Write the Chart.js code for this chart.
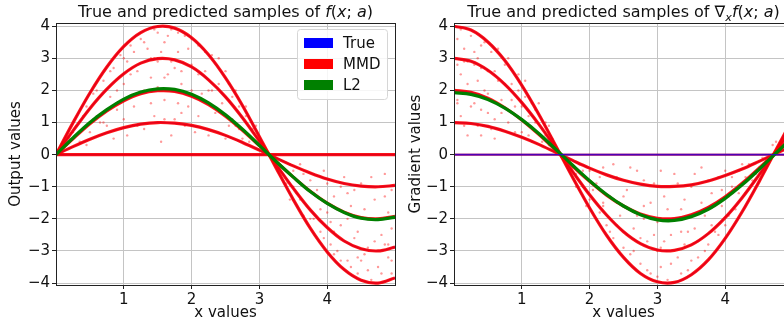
<!DOCTYPE html>
<html>
<head>
<meta charset="utf-8">
<script src="https://cdn.jsdelivr.net/npm/chart.js@4/dist/chart.umd.min.js"></script>
<style>
  html, body { margin: 0; padding: 0; background: #fff; overflow: hidden; width: 784px; height: 324px; }
  #left { position: absolute; left: 0; top: 0; }
  #right { position: absolute; left: 400px; top: 0; }
</style>
</head>
<body>
<canvas id="left" width="400" height="324"></canvas>
<canvas id="right" width="400" height="324"></canvas>
<script>
'use strict';

const xs = [0, 0.25, 0.5, 0.75, 1, 1.25, 1.5, 1.75, 2, 2.25, 2.5, 2.75, 3, 3.25, 3.5, 3.75, 4, 4.25, 4.5, 4.75, 5];
const xTicks = [1, 2, 3, 4];
const yTicks = [-4, -3, -2, -1, 0, 1, 2, 3, 4];
const legendLabels = ['True', 'MMD', 'L2'];

// left panel: f(x; a)
const fA0 = [0, 0, 0, 0, 0, 0, 0, 0, 0, 0, 0, 0, 0, 0, 0, 0, 0, 0, 0, 0, 0];
const fA1 = [0, 0.25, 0.48, 0.68, 0.84, 0.95, 1.00, 0.98, 0.91, 0.78, 0.60, 0.38, 0.14, -0.11, -0.35, -0.57, -0.76, -0.90, -0.98, -1.00, -0.96];
const fA2 = [0, 0.49, 0.96, 1.36, 1.68, 1.90, 1.99, 1.97, 1.82, 1.56, 1.20, 0.76, 0.28, -0.22, -0.70, -1.14, -1.51, -1.79, -1.96, -2.00, -1.92];
const fA3 = [0, 0.74, 1.44, 2.04, 2.52, 2.85, 2.99, 2.95, 2.73, 2.33, 1.80, 1.15, 0.42, -0.32, -1.05, -1.72, -2.27, -2.69, -2.93, -3.00, -2.88];
const fA4 = [0, 0.99, 1.92, 2.73, 3.37, 3.80, 3.99, 3.94, 3.64, 3.11, 2.39, 1.53, 0.56, -0.43, -1.40, -2.29, -3.03, -3.58, -3.91, -4.00, -3.84];
const fL2 = [0, 0.52, 1.00, 1.40, 1.73, 1.95, 2.05, 2.03, 1.88, 1.61, 1.24, 0.79, 0.29, -0.22, -0.70, -1.15, -1.52, -1.80, -1.98, -2.02, -1.95];

const fSampleX = [0.2, 0.3, 0.35, 0.45, 0.5, 0.55, 0.6, 0.7, 0.75, 0.8, 0.85, 0.9, 0.95, 1.0, 1.05, 1.1, 1.15, 1.2, 1.25, 1.3,
  1.35, 1.4, 1.45, 1.5, 1.5, 1.55, 1.6, 1.6, 1.65, 1.7, 1.75, 1.8, 1.85, 1.9, 1.95, 2.0, 2.05, 2.1, 2.15, 2.2,
  2.3, 2.35, 2.4, 2.5, 2.55, 2.6, 2.7, 2.75, 2.8, 2.9, 3.0, 3.05, 3.3, 3.4, 3.5, 3.55, 3.6, 3.7, 3.75, 3.8,
  3.85, 3.9, 3.95, 4.0, 4.05, 4.1, 4.15, 4.2, 4.25, 4.3, 4.35, 4.4, 4.45, 4.5, 4.55, 4.6, 4.65, 4.7, 4.75, 4.8,
  4.85, 4.9, 4.9, 4.95, 4.95, 4.3, 4.6, 3.65, 1.25, 1.75, 0.65, 1.05, 1.45, 1.85, 2.25, 4.05, 4.45, 4.85, 3.45, 2.65,
  0.15, 0.25, 0.4, 0.45, 0.55, 0.6, 0.7, 0.8, 0.85, 0.9, 1.0, 1.0, 1.1, 1.15, 1.2, 1.3, 1.3, 1.4, 1.4, 1.45,
  1.5, 1.55, 1.6, 1.6, 1.65, 1.7, 1.7, 1.8, 1.8, 1.85, 1.9, 1.95, 2.0, 2.0, 2.1, 2.1, 2.2, 2.25, 2.3, 2.4,
  2.45, 2.5, 2.55, 2.6, 2.65, 2.7, 2.8, 2.85, 2.95, 3.1, 3.25, 3.35, 3.45, 3.5, 3.6, 3.65, 3.75, 3.8, 3.9, 3.95,
  4.0, 4.1, 4.1, 4.2, 4.2, 4.3, 4.35, 4.4, 4.45, 4.5, 4.55, 4.6, 4.65, 4.7, 4.75, 4.8, 4.85, 4.9, 4.95, 4.95];
const fSampleY = [0.5, 0.9, 0.4, 1.5, 0.7, 1.9, 1.2, 2.3, 0.9, 1.8, 2.7, 1.4, 3.1, 2.2, 0.6, 3.4, 1.5, 2.6, 3.6, 0.8,
  3.3, 2.4, 1.2, 3.8, 2.9, 0.4, 3.5, 1.7, 2.5, 3.9, 1.1, 3.2, 2.2, 3.7, 1.5, 2.8, 0.7, 3.4, 1.9, 2.6,
  3.1, 1.3, 2.2, 2.6, 0.9, 1.8, 1.5, 0.5, 1.2, 0.8, 0.4, 0.2, -0.4, -0.9, -0.5, -1.2, -0.3, -1.6, -0.8, -2.0,
  -1.1, -2.4, -0.5, -1.8, -2.8, -1.3, -3.0, -2.2, -0.7, -3.3, -1.6, -2.6, -3.7, -0.9, -3.1, -2.0, -3.9, -1.4, -3.5, -2.5,
  -0.6, -3.2, -1.8, -3.7, -2.3, -1.2, -2.9, -1.9, 1.9, 2.7, 1.0, 2.9, 3.0, 1.3, 2.0, -2.1, -3.2, -2.8, -1.4, 0.9,
  0.3, 0.7, 1.2, 0.3, 1.1, 2.0, 1.0, 2.6, 0.5, 2.0, 3.0, 1.1, 2.5, 3.2, 0.9, 2.0, 3.5, 1.6, 3.0, 3.9,
  2.1, 3.2, 1.1, 2.4, 3.7, 2.9, 0.6, 1.6, 3.8, 2.6, 0.9, 3.3, 2.0, 3.6, 1.2, 2.5, 3.2, 0.6, 2.0, 3.0,
  1.6, 0.5, 2.2, 1.1, 2.0, 0.8, 1.5, 0.4, 0.9, 0.1, -0.2, -0.6, -0.3, -1.0, -1.4, -0.6, -2.0, -1.2, -1.7, -2.6,
  -0.9, -2.4, -3.1, -1.0, -3.3, -2.0, -3.5, -1.1, -2.4, -3.3, -1.7, -3.6, -0.7, -2.7, -2.0, -3.7, -1.3, -2.8, -1.1, -3.3];

// right panel: gradient of f(x; a)
const gA0 = [0, 0, 0, 0, 0, 0, 0, 0, 0, 0, 0, 0, 0, 0, 0, 0, 0, 0, 0, 0, 0];
const gA1 = [1.00, 0.97, 0.88, 0.73, 0.54, 0.32, 0.07, -0.18, -0.42, -0.63, -0.80, -0.92, -0.99, -0.99, -0.94, -0.82, -0.65, -0.45, -0.21, 0.04, 0.28];
const gA2 = [2.00, 1.94, 1.76, 1.46, 1.08, 0.63, 0.14, -0.36, -0.83, -1.26, -1.60, -1.85, -1.98, -1.99, -1.87, -1.64, -1.31, -0.89, -0.42, 0.08, 0.57];
const gA3 = [3.00, 2.91, 2.63, 2.19, 1.62, 0.95, 0.21, -0.53, -1.25, -1.88, -2.40, -2.77, -2.97, -2.98, -2.81, -2.46, -1.96, -1.34, -0.63, 0.11, 0.85];
const gA4 = [4.00, 3.88, 3.51, 2.93, 2.16, 1.26, 0.28, -0.71, -1.66, -2.51, -3.20, -3.70, -3.96, -3.98, -3.74, -3.28, -2.61, -1.78, -0.84, 0.15, 1.13];
const gL2 = [1.93, 1.88, 1.72, 1.45, 1.09, 0.66, 0.17, -0.33, -0.81, -1.24, -1.60, -1.87, -2.03, -2.05, -1.93, -1.70, -1.36, -0.94, -0.46, 0.05, 0.55];

const gSampleX = [0.05, 0.1, 0.1, 0.15, 0.2, 0.2, 0.25, 0.3, 0.3, 0.35, 0.4, 0.45, 0.5, 0.5, 0.55, 0.6, 0.65, 0.7, 0.75, 0.8,
  0.85, 0.9, 0.95, 1.0, 1.05, 1.1, 1.15, 1.2, 1.3, 1.35, 1.4, 1.45, 1.7, 1.8, 1.85, 1.9, 2.0, 2.0, 2.1, 2.15,
  2.2, 2.25, 2.3, 2.35, 2.4, 2.45, 2.5, 2.55, 2.6, 2.65, 2.7, 2.75, 2.8, 2.85, 2.9, 2.95, 3.0, 3.05, 3.1, 3.15,
  3.2, 3.25, 3.3, 3.35, 3.4, 3.45, 3.5, 3.55, 3.6, 3.65, 3.7, 3.75, 3.8, 3.85, 3.9, 3.95, 4.0, 4.1, 4.15, 4.2,
  4.3, 4.35, 4.4, 4.5, 4.55, 4.8, 4.85, 4.7, 3.05, 2.4, 0.15, 0.35, 0.6, 0.05, 0.4, 2.8, 3.35, 3.0, 2.2, 4.05,
  0.05, 0.05, 0.1, 0.15, 0.2, 0.25, 0.3, 0.35, 0.4, 0.4, 0.45, 0.5, 0.55, 0.6, 0.65, 0.7, 0.75, 0.8, 0.85, 0.9,
  0.95, 1.0, 1.05, 1.1, 1.15, 1.2, 1.25, 1.3, 1.35, 1.4, 1.75, 1.8, 1.9, 1.95, 2.05, 2.1, 2.15, 2.2, 2.3, 2.35,
  2.4, 2.5, 2.55, 2.6, 2.65, 2.7, 2.75, 2.8, 2.85, 2.9, 2.95, 3.0, 3.05, 3.1, 3.15, 3.2, 3.25, 3.3, 3.35, 3.4,
  3.45, 3.5, 3.55, 3.6, 3.65, 3.7, 3.75, 3.8, 3.85, 3.9, 3.95, 4.0, 4.05, 4.1, 4.2, 4.25, 4.3, 4.45, 4.6, 4.75];
const gSampleY = [3.6, 2.5, 1.2, 3.3, 0.6, 2.2, 3.7, 1.6, 2.8, 0.9, 3.4, 2.0, 1.3, 2.6, 3.2, 0.5, 2.3, 1.7, 2.8, 1.0,
  2.2, 1.5, 2.5, 0.7, 1.8, 1.2, 0.4, 1.4, 0.8, 1.0, 0.3, 0.5, -0.2, -0.6, -0.3, -1.0, -0.5, -1.4, -0.9, -1.8,
  -0.4, -2.2, -1.3, -2.6, -0.7, -1.9, -2.9, -1.1, -3.1, -2.3, -0.5, -3.4, -1.6, -2.7, -3.7, -0.9, -2.1, -3.5, -1.3, -3.9,
  -2.5, -0.6, -3.2, -1.7, -2.8, -3.6, -1.0, -2.3, -3.2, -0.4, -1.9, -2.8, -1.2, -2.4, -0.7, -1.6, -2.2, -1.0, -1.7, -0.5,
  -1.2, -0.3, -0.8, -0.4, -0.1, 0.2, 0.5, 0.3, -2.9, -1.5, 2.9, 3.0, 1.1, 1.6, 1.4, -2.0, -2.4, -3.0, -1.6, -1.3,
  2.8, 1.7, 3.9, 0.9, 2.9, 1.5, 3.2, 2.3, 0.6, 2.7, 3.5, 1.9, 0.8, 2.6, 3.3, 1.3, 2.2, 3.0, 1.7, 0.7,
  2.0, 1.5, 2.3, 0.6, 1.6, 1.0, 1.6, 0.4, 0.6, 0.9, -0.4, -1.0, -0.5, -1.6, -1.1, -2.0, -0.7, -1.5, -2.4, -0.3,
  -2.2, -1.3, -2.5, -0.4, -3.0, -1.9, -2.6, -0.8, -3.6, -1.5, -2.5, -3.8, -0.5, -2.7, -1.7, -3.4, -2.0, -0.9, -3.7, -1.4,
  -2.4, -3.3, -0.6, -2.7, -1.5, -3.0, -0.8, -2.2, -1.6, -2.5, -1.1, -0.5, -1.9, -0.7, -1.2, -0.3, -0.7, -0.6, -0.2, 0.4];

const BLUE = '#0000ff';
const RED = '#ff0000';
const GREEN = '#008000';

Chart.defaults.font.family = "'DejaVu Sans', sans-serif";
Chart.defaults.color = '#111';

function pts(ys) {
    return xs.map((x, i) => ({ x: x, y: ys[i] }));
}

/**
 * matplotlib-like title with italic math parts
 */
const mathTitle = {
    id: 'mathTitle',
    afterDraw(chart, args, opts) {
        if (!opts.parts) return;
        const ctx = chart.ctx;
        const area = chart.chartArea;
        const size = 16;
        const fontOf = (p) => (p.it ? 'italic ' : '') + (p.sub ? size * 0.7 : size) + "px 'DejaVu Sans'";
        ctx.save();
        let total = 0;
        opts.parts.forEach(p => { ctx.font = fontOf(p); total += ctx.measureText(p.t).width; });
        let x = (area.left + area.right) / 2 - total / 2;
        ctx.fillStyle = '#111';
        ctx.textBaseline = 'alphabetic';
        opts.parts.forEach(p => {
            ctx.font = fontOf(p);
            ctx.fillText(p.t, x, 17 + (p.sub ? 4 : 0));
            x += ctx.measureText(p.t).width;
        });
        ctx.restore();
    }
};

/**
 * frame around the plot area + legend box
 */
const frame = {
    id: 'frame',
    afterDatasetsDraw(chart, args, opts) {
        const ctx = chart.ctx;
        const a = chart.chartArea;
        ctx.save();
        ctx.strokeStyle = '#222';
        ctx.lineWidth = 1;
        ctx.strokeRect(a.left + 0.5, a.top + 0.5, a.right - a.left, a.bottom - a.top);
        if (opts.legend) {
            const bx = a.right - 98, by = a.top + 6, bw = 90, bh = 70;
            ctx.fillStyle = 'rgba(255,255,255,0.85)';
            ctx.strokeStyle = '#d6d6d6';
            ctx.beginPath();
            ctx.roundRect(bx + 0.5, by + 0.5, bw, bh, 3);
            ctx.fill();
            ctx.stroke();
            const cols = [BLUE, RED, GREEN];
            ctx.font = "15px 'DejaVu Sans'";
            ctx.textBaseline = 'middle';
            legendLabels.forEach((lab, i) => {
                const cy = by + 14 + i * 21;
                ctx.fillStyle = cols[i];
                ctx.fillRect(bx + 7, cy - 5, 29, 10);
                ctx.fillStyle = '#111';
                ctx.fillText(lab, bx + 46, cy + 1);
            });
        }
        ctx.restore();
    }
};

function makeChart(id, curves, l2, sx, sy, yLabel, yWidth, padRight, titleParts, legend) {
    const datasets = [];
    datasets.push({
        data: sx.map((x, i) => ({ x: x, y: sy[i] })),
        pointRadius: 1.2,
        pointBackgroundColor: 'rgba(255,0,0,0.4)',
        pointBorderWidth: 0,
        showLine: false,
        order: 5
    });
    curves.forEach((c, k) => {
        datasets.push({
            data: pts(c), showLine: true, borderColor: BLUE, borderWidth: 1.6,
            pointRadius: 0, tension: 0.35, order: 4
        });
        datasets.push({
            data: pts(c), showLine: true, borderColor: 'rgba(255,0,0,0.9)',
            borderWidth: k === 0 && id === 'right' ? 1.6 : 3.2,
            pointRadius: 0, tension: 0.35, order: 3
        });
    });
    datasets.push({
        data: pts(l2), showLine: true, borderColor: GREEN, borderWidth: 3.3,
        pointRadius: 0, tension: 0.35, order: 2
    });
    if (id === 'right') {
        datasets.push({
            data: pts(curves[0]), showLine: true, borderColor: 'rgba(40,0,220,0.8)', borderWidth: 1.4,
            pointRadius: 0, order: 1
        });
    }

    return new Chart(document.getElementById(id), {
        type: 'scatter',
        data: { datasets: datasets },
        plugins: [mathTitle, frame],
        options: {
            responsive: false,
            animation: false,
            layout: { padding: { top: 23, right: padRight, left: 0, bottom: 0 } },
            plugins: {
                legend: { display: false },
                tooltip: { enabled: false },
                mathTitle: { parts: titleParts },
                frame: { legend: legend }
            },
            scales: {
                x: {
                    type: 'linear', min: 0, max: 5,
                    afterBuildTicks: (s) => { s.ticks = xTicks.map(v => ({ value: v })); },
                    afterFit: (s) => { s.height = 39; },
                    ticks: { font: { size: 15 }, padding: 2, maxRotation: 0 },
                    grid: { color: '#c4c4c4', lineWidth: 1, tickLength: 4, tickColor: '#222' },
                    border: { display: false },
                    title: { display: true, text: 'x values', font: { size: 15 }, padding: { top: 0, bottom: 2 } }
                },
                y: {
                    type: 'linear', min: -4.06, max: 4.1,
                    afterBuildTicks: (s) => { s.ticks = yTicks.map(v => ({ value: v })); },
                    afterFit: (s) => { s.width = yWidth; },
                    ticks: {
                        font: { size: 15 }, padding: 2,
                        callback: (v) => String(v).replace('-', '\u2212')
                    },
                    grid: { color: '#c4c4c4', lineWidth: 1, tickLength: 4, tickColor: '#222' },
                    border: { display: false },
                    title: { display: true, text: yLabel, font: { size: 15 }, padding: { top: 7, bottom: 0 } }
                }
            }
        }
    });
}

makeChart('left', [fA0, fA1, fA2, fA3, fA4], fL2, fSampleX, fSampleY, 'Output values', 56, 5, [
    { t: 'True and predicted samples of ' }, { t: 'f', it: true }, { t: '(' }, { t: 'x', it: true },
    { t: '; ' }, { t: 'a', it: true }, { t: ')' }
], true);

makeChart('right', [gA0, gA1, gA2, gA3, gA4], gL2, gSampleX, gSampleY, 'Gradient values', 54, 7, [
    { t: 'True and predicted samples of ' }, { t: '\u2207' }, { t: 'x', it: true, sub: true },
    { t: 'f', it: true }, { t: '(' }, { t: 'x', it: true }, { t: '; ' }, { t: 'a', it: true }, { t: ')' }
], false);
</script>
</body>
</html>
